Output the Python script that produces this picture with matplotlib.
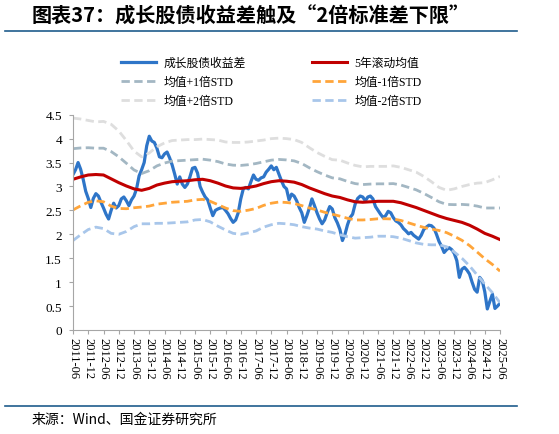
import matplotlib.pyplot as plt
import numpy as np
from matplotlib.lines import Line2D

plt.rcParams['font.family'] = ['Liberation Serif', 'Noto Sans CJK SC']

# 成长股债收益差，月度，2011-06 ~ 2025-06
spread = [
    3.25, 3.35, 3.50, 3.36, 3.15, 2.90, 2.75, 2.56, 2.75, 2.85, 2.80, 2.67,
    2.55, 2.42, 2.32, 2.50, 2.65, 2.55, 2.60, 2.74, 2.78, 2.70, 2.60, 2.72,
    2.80, 2.95, 3.22, 3.35, 3.50, 3.85, 4.05, 3.95, 3.92, 3.80, 3.62, 3.60,
    3.68, 3.72, 3.60, 3.45, 3.26, 3.05, 3.20, 3.05, 2.98, 3.05, 3.20, 3.38,
    3.40, 3.28, 3.00, 2.88, 2.78, 2.72, 2.55, 2.39, 2.50, 2.53, 2.55, 2.56,
    2.50, 2.43, 2.33, 2.25, 2.30, 2.45, 2.74, 2.95, 2.98, 2.95, 3.10, 3.24,
    3.15, 3.13, 3.18, 3.20, 3.30, 3.36, 3.43, 3.35, 3.40, 3.26, 3.12, 3.00,
    2.95, 2.72, 2.84, 2.80, 2.70, 2.56, 2.45, 2.25, 2.39, 2.55, 2.74, 2.60,
    2.45, 2.32, 2.22, 2.30, 2.45, 2.58, 2.53, 2.35, 2.24, 2.10, 1.87, 2.00,
    2.20, 2.35, 2.42, 2.63, 2.75, 2.80, 2.78, 2.70, 2.78, 2.80, 2.74, 2.58,
    2.50, 2.42, 2.35, 2.39, 2.48, 2.45, 2.35, 2.28, 2.25, 2.20, 2.12, 2.07,
    2.01, 2.04, 1.98, 1.94, 1.90, 1.98, 2.10, 2.15, 2.19, 2.18, 2.13, 2.00,
    1.85, 1.75, 1.62, 1.68, 1.72, 1.68, 1.60, 1.45, 1.10, 1.27, 1.31, 1.25,
    1.17, 1.00, 0.85, 0.79, 1.10, 1.03, 0.80, 0.44, 0.60, 0.75, 0.45, 0.50,
    0.56,
]

# 5年滚动均值与标准差，季度取点
mean5y = [
    3.15, 3.20, 3.24, 3.25, 3.24, 3.16, 3.08, 3.01, 2.95, 2.92,
    2.96, 3.03, 3.07, 3.10, 3.11, 3.12, 3.14, 3.15, 3.12, 3.07,
    3.01, 2.97, 2.96, 2.98, 3.01, 3.06, 3.10, 3.12, 3.11, 3.09,
    3.04, 2.97, 2.91, 2.85, 2.80, 2.77, 2.72, 2.68, 2.67, 2.68,
    2.69, 2.69, 2.69, 2.66, 2.61, 2.56, 2.50, 2.44, 2.38, 2.33,
    2.29, 2.25, 2.19, 2.11, 2.02, 1.96, 1.89,
]
std5y = [
    0.640, 0.605, 0.570, 0.550, 0.560, 0.570, 0.540, 0.475, 0.395, 0.350,
    0.370, 0.400, 0.420, 0.430, 0.430, 0.430, 0.420, 0.420, 0.430, 0.450,
    0.460, 0.475, 0.480, 0.475, 0.470, 0.455, 0.450, 0.445, 0.445, 0.445,
    0.440, 0.420, 0.400, 0.390, 0.380, 0.390, 0.385, 0.380, 0.370, 0.370,
    0.365, 0.365, 0.370, 0.370, 0.370, 0.370, 0.355, 0.330, 0.300, 0.295,
    0.330, 0.375, 0.425, 0.480, 0.530, 0.590, 0.660,
]

tick_labels = [
    '2011-06', '2011-12', '2012-06', '2012-12', '2013-06', '2013-12',
    '2014-06', '2014-12', '2015-06', '2015-12', '2016-06', '2016-12',
    '2017-06', '2017-12', '2018-06', '2018-12', '2019-06', '2019-12',
    '2020-06', '2020-12', '2021-06', '2021-12', '2022-06', '2022-12',
    '2023-06', '2023-12', '2024-06', '2024-12', '2025-06',
]

x = np.arange(len(spread))
xq = np.arange(0, len(spread), 3)
mean = np.array(mean5y)
std = np.array(std5y)

fig = plt.figure(figsize=(5.59, 4.35), dpi=100)
ax = fig.add_axes([0.1306, 0.2391, 0.7639, 0.4949])

dash = (3, 1.6)
h_blue, = ax.plot(x, spread, color='#2E75C8', lw=2.3, label='成长股债收益差')
h_red, = ax.plot(xq, mean, color='#C00000', lw=2.2, label='5年滚动均值')
h_p1, = ax.plot(xq, mean + std, color='#A3B7C3', lw=2, dashes=dash, label='均值+1倍STD')
h_m1, = ax.plot(xq, mean - std, color='#FFA53A', lw=2, dashes=dash, label='均值-1倍STD')
h_p2, = ax.plot(xq, mean + 2 * std, color='#DEDEDE', lw=2, dashes=dash, label='均值+2倍STD')
h_m2, = ax.plot(xq, mean - 2 * std, color='#A8C6EA', lw=2, dashes=dash, label='均值-2倍STD')

ax.set_xlim(0, len(spread) - 1)
ax.set_ylim(0, 4.5)
ax.set_yticks(np.arange(0, 4.51, 0.5))
ax.set_yticklabels(['0', '0.5', '1', '1.5', '2', '2.5', '3', '3.5', '4', '4.5'])
ax.set_xticks(np.arange(0, len(spread), 6))
ax.set_xticklabels(tick_labels, rotation=270)

for s in ['top', 'right']:
    ax.spines[s].set_visible(False)
for s in ['left', 'bottom']:
    ax.spines[s].set_color('#A6A6A6')
ax.tick_params(axis='y', length=3, pad=5, color='#A6A6A6', labelsize=9.5)
ax.tick_params(axis='x', length=3, pad=2, color='#A6A6A6', labelsize=9)

fig.legend(handles=[h_blue, h_p1, h_p2, h_red, h_m1, h_m2], ncol=2,
           loc='upper center', bbox_to_anchor=(0.485, 1 - 52 / 435),
           frameon=False, fontsize=8.5, handlelength=3.0, handletextpad=0.6,
           columnspacing=5.6, labelspacing=0.6, borderpad=0)

# 标题与分隔线
fig.text(32 / 559, 1 - 16 / 435, '图表37：成长股债收益差触及“2倍标准差下限”',
         family=['Noto Sans CJK SC', 'DejaVu Sans'], fontsize=14.5,
         fontweight='bold', style='italic', va='center', ha='left')
fig.add_artist(Line2D([5 / 559, 517 / 559], [1 - 32 / 435] * 2,
                      transform=fig.transFigure, color='#1F5C8C', lw=1.2))
fig.add_artist(Line2D([5 / 559, 517 / 559], [1 - 407 / 435] * 2,
                      transform=fig.transFigure, color='#1F5C8C', lw=1.2))
fig.text(32 / 559, 1 - 420 / 435, '来源：Wind、国金证券研究所',
         family=['Noto Sans CJK SC', 'DejaVu Sans'], fontsize=10,
         va='center', ha='left')

fig.savefig('out.png', dpi=100)
